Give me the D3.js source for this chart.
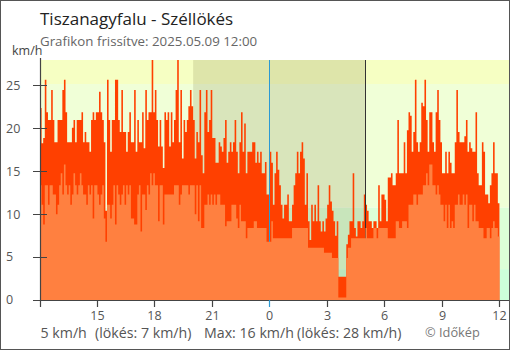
<!DOCTYPE html>
<html><head><meta charset="utf-8">
<script src="https://cdn.jsdelivr.net/npm/d3@7"></script>
<style>body{margin:0;background:#fff}svg{display:block}text{font-family:"Open Sans",sans-serif}</style>
</head><body><svg id="c" width="510" height="350"></svg>
<script>
const title = "Tiszanagyfalu - Széllökés";
const subtitle = "Grafikon frissítve: 2025.05.09 12:00";
const unitLabel = "km/h";
const startTime = "2025-05-08T12:00:00";
const endTime = "2025-05-09T12:30:00";
const stepMinutes = 5;
// gust (km/h), 12 values per hour from 12:00
const gust = [
22.4,18.3,18.9,25.7,21.9,21.0,21.0,24.5,21.0,18.4,18.4,21.0,
21.0,21.0,24.5,25.7,21.9,18.4,18.4,18.4,20.1,21.0,18.4,21.0,
21.0,21.0,21.9,18.4,19.6,18.4,18.4,17.3,21.0,21.9,21.0,21.9,
21.9,24.3,21.9,21.0,18.4,10.4,25.7,21.0,17.3,21.0,21.0,25.7,
25.7,21.0,19.6,24.5,19.6,19.6,17.3,19.6,21.9,18.4,18.4,24.5,
17.3,21.0,18.4,18.4,21.9,17.7,24.5,21.0,21.9,21.9,28.0,21.9,
24.5,21.0,17.9,21.0,17.9,15.4,21.9,21.0,21.9,17.9,21.9,18.4,
21.0,24.5,28.0,18.4,24.5,16.5,21.0,19.6,21.0,22.6,24.5,22.6,
21.0,16.5,19.6,18.4,24.5,16.9,14.8,21.9,24.5,19.6,21.0,24.5,
18.9,18.9,16.0,16.0,18.4,17.9,17.3,18.9,21.0,16.0,17.3,18.4,
17.3,18.4,21.0,17.3,14.8,18.4,21.9,17.3,20.6,14.8,17.3,17.3,
17.3,18.4,18.4,16.0,17.3,16.0,17.3,14.8,14.8,16.1,12.3,12.3,
17.3,16.0,11.1,14.8,17.3,15.2,13.4,11.1,9.5,11.1,11.1,12.3,
9.2,9.2,11.1,13.4,14.8,17.3,14.8,17.3,18.4,16.5,11.1,14.8,
9.2,7.0,11.1,9.2,11.1,9.2,13.4,9.2,8.0,9.2,8.0,9.5,
11.1,13.4,11.5,10.4,9.2,7.5,9.2,2.7,2.7,2.7,2.7,2.7,
6.5,7.6,9.2,9.2,14.8,8.4,7.4,9.2,9.2,8.4,9.2,12.3,
11.1,10.4,9.2,9.2,8.4,9.2,9.2,8.4,13.4,9.2,12.3,12.3,
11.7,9.2,14.3,14.3,14.8,13.4,13.4,14.8,21.0,14.8,14.8,14.8,
18.4,14.8,19.8,21.9,21.5,17.3,19.6,25.7,18.4,17.3,18.4,23.0,
22.6,25.7,21.0,17.3,21.9,21.9,18.4,17.3,21.9,24.5,21.0,18.4,
14.8,14.8,17.3,14.8,17.3,16.0,14.8,14.8,18.4,24.5,19.6,18.4,
18.4,18.4,19.1,21.0,17.3,18.4,17.7,17.3,17.3,21.9,14.8,13.4,
13.4,18.4,17.3,12.3,12.3,11.3,13.4,14.8,18.4,14.8,14.8,11.3
];
// mean wind (km/h)
const mean = [
13.4,11.1,8.8,13.4,13.4,11.1,13.4,13.4,12.3,12.3,10.0,11.1,
13.4,14.8,12.3,15.8,13.4,12.3,13.4,11.1,12.3,14.8,13.4,12.3,
13.4,14.8,13.4,12.3,12.3,11.1,13.4,12.3,13.4,9.5,13.4,13.4,
12.3,11.1,12.3,13.4,9.5,6.8,11.1,11.1,9.5,11.1,13.4,8.8,
13.4,12.3,11.1,12.3,13.4,11.1,13.4,12.3,13.4,9.5,9.5,8.8,
8.8,12.3,13.4,8.0,12.3,12.3,10.5,13.4,12.3,14.8,13.4,14.8,
13.4,13.4,9.2,13.4,13.4,8.8,12.3,12.3,12.3,12.3,12.3,12.3,
13.4,13.4,13.4,11.1,12.3,13.4,13.4,13.4,13.4,12.3,13.4,13.4,
13.4,10.0,13.4,9.2,13.4,8.4,8.4,11.1,11.1,12.3,11.1,12.3,
11.1,12.3,11.1,12.3,12.3,11.1,11.1,11.1,8.6,9.2,9.2,9.2,
11.1,11.1,11.1,9.5,8.4,11.1,9.2,9.2,9.2,7.2,8.4,8.4,
8.4,8.4,9.2,9.2,8.4,8.4,8.4,8.4,8.4,8.4,6.8,6.8,
6.8,9.2,7.2,7.2,7.2,7.2,7.2,7.2,7.2,7.2,7.2,7.2,
7.2,7.2,8.4,8.4,8.4,8.4,8.4,8.4,8.4,8.4,8.4,8.4,
6.1,6.1,6.1,6.1,6.1,6.1,6.1,6.1,6.1,6.1,5.5,5.5,
5.5,5.5,5.5,4.9,4.9,4.9,4.9,0.3,0.3,0.3,0.3,0.3,
4.9,6.1,6.1,7.2,7.2,7.2,7.2,7.2,7.2,7.2,7.2,7.2,
8.4,7.2,7.2,7.2,7.2,8.4,8.4,7.2,8.4,8.4,8.4,8.4,
8.4,8.4,7.2,7.2,7.2,7.2,7.2,9.2,9.2,8.4,8.4,9.2,
9.2,9.2,8.4,11.1,11.1,11.1,12.3,12.3,11.1,12.3,12.3,12.3,
13.4,13.4,14.8,13.4,15.8,15.8,13.4,13.4,12.3,13.4,12.3,11.1,
11.1,9.2,11.1,8.4,11.1,8.4,9.2,8.4,11.1,11.1,12.3,11.1,
11.1,12.3,11.1,12.3,8.4,11.1,11.1,9.2,11.1,9.2,9.2,8.4,
8.4,8.4,7.2,7.2,8.4,8.4,7.2,8.4,9.2,8.4,8.4,7.4
];
const yTicks = [0,5,10,15,20,25];
const xTickTimes = ["2025-05-08T12:00:00","2025-05-08T15:00:00","2025-05-08T18:00:00","2025-05-08T21:00:00","2025-05-09T00:00:00","2025-05-09T03:00:00","2025-05-09T06:00:00","2025-05-09T09:00:00","2025-05-09T12:00:00"];
const xTickLabels = ["","15","18","21","0","3","6","9","12"];
const bandLimits = [0,3.6,10.8,25.2,28];
const nightStart = "2025-05-08T20:00:00";
const nightEnd = "2025-05-09T05:00:00";
const midnight = "2025-05-09T00:00:00";
const footerParts = ["5 km/h","(lökés: 7 km/h)","Max: 16 km/h","(lökés: 28 km/h)"];
const credit = "© Időkép";

const svg = d3.select("#c");
const L=40, R=509, T=60, B=300;
const x = d3.scaleTime().domain([new Date(startTime), new Date(endTime)]).range([L,R]);
const y = d3.scaleLinear().domain([0,28]).range([B,T]);
const t0 = new Date(startTime).getTime();
const tAt = i => new Date(t0 + i*stepMinutes*60000);
const px = v => Math.floor(v)+0.5;

svg.append("defs").append("clipPath").attr("id","plot").append("rect")
  .attr("x",L).attr("y",T).attr("width",R-L).attr("height",B-T);
const g = svg.append("g").attr("clip-path","url(#plot)");

const bandColors = ["#ccffda","#dcffd8","#f0ffd7","#f6ffc3"];
for (let k=0;k<bandLimits.length-1;k++){
  g.append("rect").attr("x",L).attr("width",R-L)
    .attr("y",y(bandLimits[k+1])).attr("height",y(bandLimits[k])-y(bandLimits[k+1]))
    .attr("fill",bandColors[k]);
}
g.append("rect").attr("x",x(new Date(nightStart))).attr("y",T)
  .attr("width",x(new Date(nightEnd))-x(new Date(nightStart))).attr("height",B-T)
  .attr("fill","rgba(90,80,30,0.15)");

function series(vals){ const pts = vals.map((v,i)=>({t:tAt(i),v})); pts.push({t:tAt(vals.length),v:vals[vals.length-1]}); return pts; }
const area = d3.area().curve(d3.curveStepAfter).x(d=>x(d.t)).y0(y(0)).y1(d=>y(d.v));
g.append("path").datum(series(gust)).attr("d",area).attr("fill","#ff4000");

g.append("line").attr("x1",px(x(new Date(midnight)))).attr("x2",px(x(new Date(midnight))))
  .attr("y1",T).attr("y2",B).attr("stroke","#2b9ad4").attr("stroke-width",1);
g.append("line").attr("x1",px(x(new Date(nightEnd)))).attr("x2",px(x(new Date(nightEnd))))
  .attr("y1",T).attr("y2",B).attr("stroke","#333").attr("stroke-width",1);

// y ticks (under mean area)
svg.selectAll(".yt").data(yTicks).enter().append("line")
  .attr("x1",33).attr("x2",47).attr("y1",d=>px(y(d))).attr("y2",d=>px(y(d)))
  .attr("stroke","#444").attr("stroke-width",1);

g.append("path").datum(series(mean)).attr("d",area).attr("fill","#ff8040");

// axes
svg.append("line").attr("x1",40.5).attr("x2",40.5).attr("y1",58).attr("y2",B+1).attr("stroke","#444").attr("stroke-width",1.2);
svg.append("line").attr("x1",L).attr("x2",R).attr("y1",B+0.5).attr("y2",B+0.5).attr("stroke","#444").attr("stroke-width",1.2);
svg.selectAll(".ytl").data(yTicks).enter().append("text")
  .attr("x",6).attr("y",d=>y(d)+4.3).attr("font-size",12.5).attr("fill","#555").text(d=>d);
xTickTimes.forEach((s,i)=>{
  const xx = px(x(new Date(s)));
  svg.append("line").attr("x1",xx).attr("x2",xx).attr("y1",B).attr("y2",B+7)
    .attr("stroke", s===midnight ? "#2b9ad4" : "#444").attr("stroke-width",1.2);
  svg.append("text").attr("x",xx).attr("y",319.5).attr("text-anchor","middle")
    .attr("font-size",12.5).attr("fill","#555").text(xTickLabels[i]);
});

svg.append("text").attr("x",40).attr("y",25).attr("font-size",17).attr("fill","#222").text(title);
svg.append("text").attr("x",40).attr("y",45.5).attr("font-size",13.3).attr("fill","#666").text(subtitle);
svg.append("text").attr("x",12).attr("y",55).attr("font-size",12.5).attr("fill","#444").text(unitLabel);

const fx = [40.5, 95, 204, 297];
footerParts.forEach((s,i)=>svg.append("text").attr("x",fx[i]).attr("y",338).attr("font-size",14.2).attr("fill","#555").text(s));
svg.append("text").attr("x",425).attr("y",336.5).attr("font-size",12.8).attr("fill","#777").text(credit);

svg.append("rect").attr("x",0.5).attr("y",0.5).attr("width",509).attr("height",349)
  .attr("fill","none").attr("stroke","#555").attr("stroke-width",1);
</script></body></html>
